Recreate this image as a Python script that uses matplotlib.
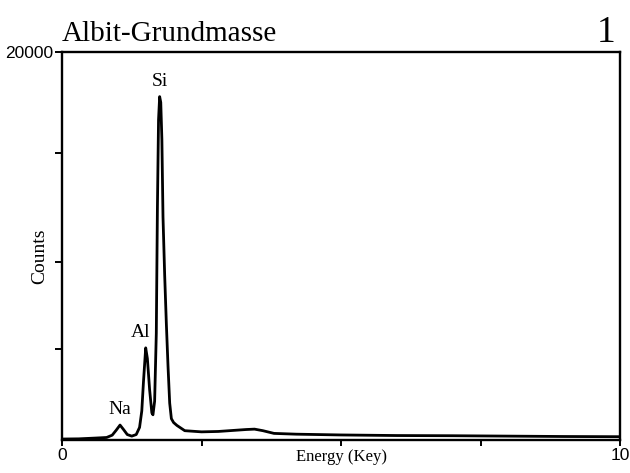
import matplotlib
matplotlib.use("Agg")
import matplotlib.pyplot as plt

# EDX spectrum of the albite groundmass
energy_kev = [0.0, 0.3, 0.6, 0.8, 0.9, 0.97, 1.04, 1.1, 1.17, 1.25, 1.33, 1.39,
              1.43, 1.46, 1.50, 1.53, 1.57, 1.61, 1.63, 1.66, 1.69, 1.71, 1.73,
              1.75, 1.77, 1.79, 1.81, 1.84, 1.87, 1.90, 1.93, 1.96, 2.00, 2.06,
              2.2, 2.5, 2.8, 3.1, 3.3, 3.45, 3.6, 3.8, 4.2, 5.0, 6.0, 7.0, 8.0,
              9.0, 10.0]
counts = [50, 60, 100, 130, 250, 500, 770, 550, 280, 200, 280, 650,
          1500, 3000, 4750, 4200, 2600, 1400, 1300, 2000, 5500, 12000, 16500,
          17700, 17400, 15500, 11500, 8500, 6000, 3800, 1900, 1100, 900, 750,
          480, 420, 440, 500, 540, 560, 480, 340, 300, 260, 230, 220, 200,
          180, 170]

# element peaks: label, energy, peak counts, horizontal label shift (pt)
peak_labels = ["Na", "Al", "Si"]
peak_energy = [1.04, 1.50, 1.75]
peak_counts = [770, 4750, 17700]
label_dx = [0, -3.5, 0]

x_ticks = [0, 2.5, 5, 7.5, 10]
x_tick_labels = ["0", "", "", "", "10"]
y_ticks = [4700, 9200, 14800, 20000]
y_tick_labels = ["", "", "", "20000"]

serif = ["Liberation Serif", "DejaVu Serif"]
sans = ["Liberation Sans", "DejaVu Sans"]

W, H = 630, 473
fig = plt.figure(figsize=(W / 100, H / 100), dpi=100)
ax = fig.add_axes([62 / W, 1 - 440 / H, (620 - 62) / W, (440 - 52) / H])

ax.plot(energy_kev, counts, color="black", lw=2.0, solid_joinstyle="round")
ax.set_xlim(0, 10)
ax.set_ylim(0, 20000)

for s in ax.spines.values():
    s.set_linewidth(1.7)
    s.set_color("black")

ax.set_xticks(x_ticks)
ax.set_xticklabels(x_tick_labels, fontfamily=sans, fontsize=12.5)
ax.set_yticks(y_ticks)
ax.set_yticklabels(y_tick_labels, fontfamily=sans, fontsize=12.5)
ax.tick_params(axis="x", direction="out", length=4, width=1.4, pad=2)
ax.tick_params(axis="y", direction="out", length=5, width=1.4, pad=1)

fig.text(342 / W, 1 - 457 / H, "Energy (Key)", fontfamily=serif,
         fontsize=12, ha="center", va="center")
fig.text(40 / W, 1 - 256 / H, "Counts", fontfamily=serif, fontsize=14,
         rotation=90, ha="center", va="center")

for lab, e, c, dx in zip(peak_labels, peak_energy, peak_counts, label_dx):
    ax.annotate(lab, (e, c), xytext=(dx, 5), textcoords="offset points",
                ha="center", va="bottom", fontfamily=serif, fontsize=14)

fig.text(62 / W, 1 - 41 / H, "Albit-Grundmasse", fontfamily=serif,
         fontsize=21, ha="left", va="baseline")
fig.text(606 / W, 1 - 42 / H, "1", fontfamily=serif, fontsize=27,
         ha="center", va="baseline")

fig.savefig("out.png", dpi=100)
